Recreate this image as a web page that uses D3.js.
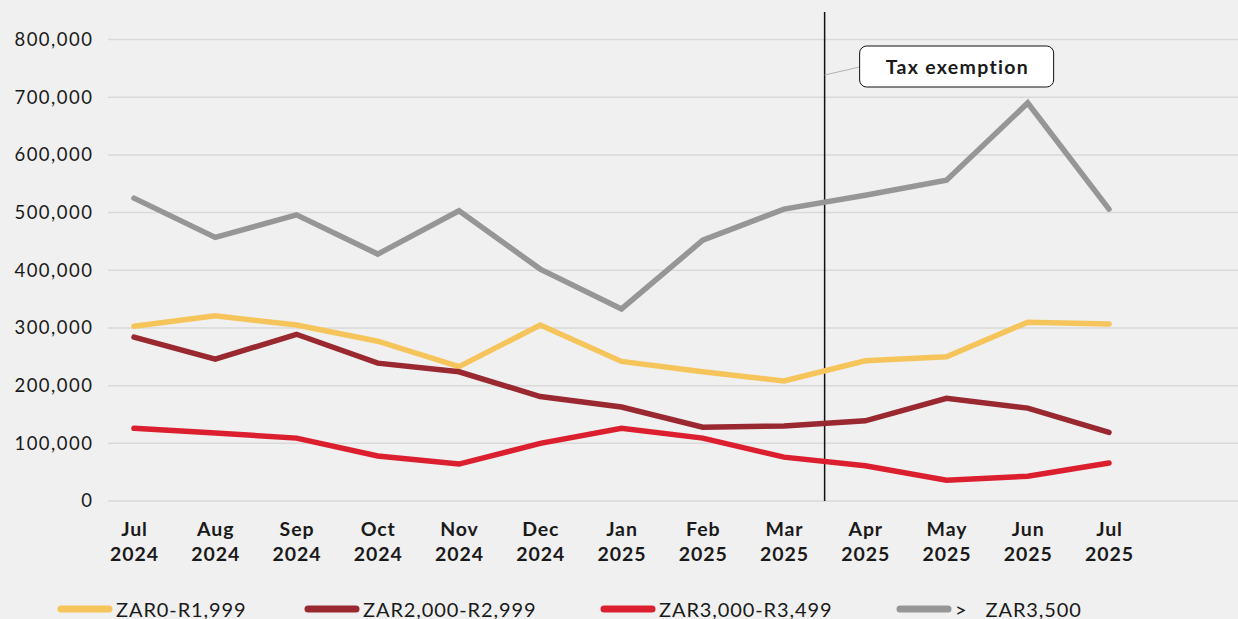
<!DOCTYPE html>
<html>
<head>
<meta charset="utf-8">
<script src="https://cdn.jsdelivr.net/npm/d3@7"></script>
<style>
  html, body { margin: 0; padding: 0; background: #f0f0f0; }
  svg { display: block; }
  text { font-family: "Lato", "Open Sans", sans-serif; fill: #1a1a1a; }
</style>
</head>
<body>
<svg id="chart" width="1238" height="619"></svg>
<script>
// Monthly counts by income band
const months = ["Jul 2024", "Aug 2024", "Sep 2024", "Oct 2024", "Nov 2024", "Dec 2024",
  "Jan 2025", "Feb 2025", "Mar 2025", "Apr 2025", "May 2025", "Jun 2025", "Jul 2025"];
const band0to1999 = [303000, 321000, 305000, 277000, 233000, 305000, 242000, 224000, 208000, 243000, 250000, 310000, 307000];
const band2000to2999 = [284000, 246000, 289000, 239000, 224000, 181000, 163000, 128000, 130000, 139000, 178000, 161000, 119000];
const band3000to3499 = [126000, 118000, 109000, 78000, 64000, 100000, 126000, 109000, 76000, 61000, 36000, 43000, 66000];
const bandOver3500 = [525000, 457000, 496000, 428000, 503000, 402000, 333000, 452000, 506000, 530000, 556000, 690000, 506000];
const yTicks = [0, 100000, 200000, 300000, 400000, 500000, 600000, 700000, 800000];
const seriesNames = ["ZAR0-R1,999", "ZAR2,000-R2,999", "ZAR3,000-R3,499", ">\u00a0\u00a0\u00a0ZAR3,500"];
const seriesColors = ["#f5c55c", "#992830", "#dc1f2e", "#969696"];
const annotationText = "Tax exemption";
const exemptionAfter = "Mar 2025";

const series = [band0to1999, band2000to2999, band3000to3499, bandOver3500].map((values, i) => ({
  name: seriesNames[i], color: seriesColors[i], values
}));

const svg = d3.select("#chart");

const x = d3.scalePoint().domain(months).range([134, 1109]);
const y = d3.scaleLinear().domain([0, 800000]).range([501, 39.5]);

// Horizontal gridlines
svg.append("g").selectAll("line").data(yTicks).join("line")
  .attr("x1", 108).attr("x2", 1238)
  .attr("y1", d => y(d)).attr("y2", d => y(d))
  .attr("stroke", "#d9d9d9").attr("stroke-width", 1.5);

// Y axis labels
const yAxis = svg.append("g").attr("transform", "translate(93.5,0)")
  .call(d3.axisLeft(y).tickValues(yTicks).tickSize(0).tickPadding(0).tickFormat(d3.format(",")));
yAxis.select(".domain").remove();
yAxis.selectAll("text").style("font-size", "18.5px").style("font-family", "Lato, sans-serif")
  .attr("fill", "#1a1a1a").attr("letter-spacing", "1.5px");

// X axis labels: month over year
const xAxis = svg.append("g");
const xl = xAxis.selectAll("text").data(months).join("text")
  .attr("x", d => x(d)).attr("text-anchor", "middle")
  .attr("letter-spacing", "0.9px")
  .style("font-size", "19.5px").style("font-weight", "700");
xl.append("tspan").attr("x", d => x(d) + 0.5).attr("y", 536).text(d => d.split(" ")[0]);
xl.append("tspan").attr("x", d => x(d) + 0.5).attr("y", 560.5).text(d => d.split(" ")[1]);

// Exemption marker between Mar and Apr
const idx = months.indexOf(exemptionAfter);
const xMark = (x(months[idx]) + x(months[idx + 1])) / 2;
svg.append("line")
  .attr("x1", xMark).attr("x2", xMark).attr("y1", 12).attr("y2", 501)
  .attr("stroke", "#111").attr("stroke-width", 1.5);

// Lines
const line = d3.line().x((d, i) => x(months[i])).y(d => y(d));
svg.append("g").selectAll("path").data(series).join("path")
  .attr("d", d => line(d.values))
  .attr("fill", "none")
  .attr("stroke", d => d.color)
  .attr("stroke-width", 5.5)
  .attr("stroke-linejoin", "miter")
  .attr("stroke-linecap", "round");

// Annotation callout
const box = { x: xMark + 35, y: 46, w: 194, h: 41 };
svg.append("line")
  .attr("x1", xMark).attr("y1", 75).attr("x2", box.x).attr("y2", 67)
  .attr("stroke", "#b0b0b0").attr("stroke-width", 1);
svg.append("rect")
  .attr("x", box.x).attr("y", box.y).attr("width", box.w).attr("height", box.h)
  .attr("rx", 7).attr("fill", "#ffffff").attr("stroke", "#111").attr("stroke-width", 1);
svg.append("text")
  .attr("x", box.x + box.w / 2 + 0.7).attr("y", box.y + box.h / 2 + 7)
  .attr("text-anchor", "middle")
  .attr("letter-spacing", "1.3px")
  .style("font-size", "19.5px").style("font-weight", "700")
  .text(annotationText);

// Legend
const legendX = [61, 308, 604, 900];
const lg = svg.append("g").selectAll("g").data(series).join("g")
  .attr("transform", (d, i) => `translate(${legendX[i]},609)`);
lg.append("line").attr("x1", 0).attr("x2", 48).attr("y1", 0).attr("y2", 0)
  .attr("stroke", d => d.color).attr("stroke-width", 7).attr("stroke-linecap", "round");
lg.append("text").attr("x", 55).attr("y", 8)
  .style("font-size", "20px").attr("letter-spacing", "0.9px")
  .text(d => d.name);
</script>
</body>
</html>
